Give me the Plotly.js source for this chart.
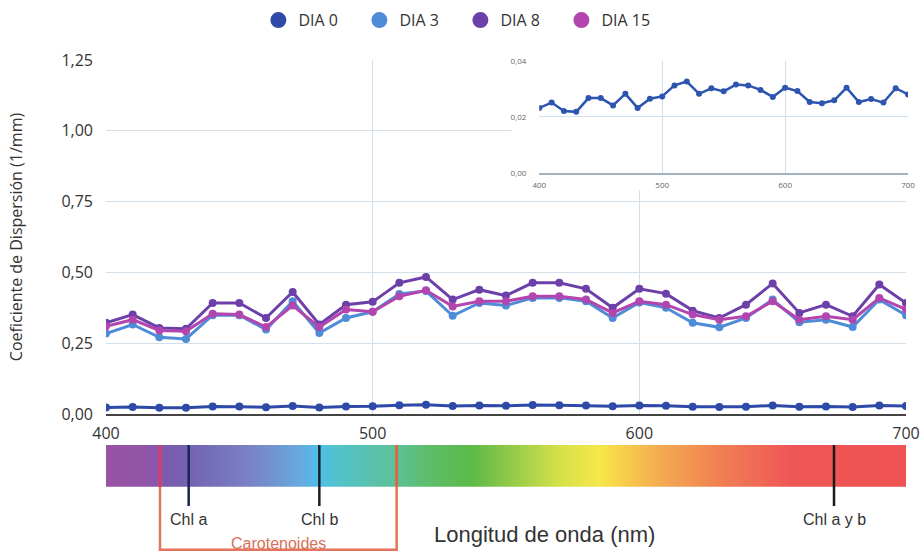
<!DOCTYPE html>
<html><head><meta charset="utf-8">
<script src="https://cdn.plot.ly/plotly-3.0.1.min.js"></script>
<style>html,body{margin:0;padding:0;background:#fff}#chart{width:922px;height:552px}</style>
</head><body><div id="chart"></div>
<script>
// ---- data ----
const wavelengths = [400,410,420,430,440,450,460,470,480,490,500,510,520,530,540,550,560,570,580,590,600,610,620,630,640,650,660,670,680,690,700];
const dia0  = [0.0232,0.0251,0.0221,0.0218,0.0267,0.0267,0.0241,0.0282,0.0232,0.0265,0.0273,0.0312,0.0326,0.0282,0.0302,0.0291,0.0315,0.0312,0.0296,0.0271,0.0304,0.0292,0.0253,0.0249,0.0259,0.0304,0.0253,0.0264,0.0251,0.0302,0.0280];
const dia3  = [0.284,0.316,0.271,0.265,0.349,0.349,0.298,0.398,0.286,0.339,0.361,0.424,0.434,0.347,0.392,0.383,0.410,0.410,0.398,0.339,0.394,0.375,0.322,0.306,0.339,0.404,0.324,0.333,0.307,0.404,0.349];
const dia8  = [0.322,0.351,0.304,0.301,0.392,0.392,0.339,0.431,0.316,0.386,0.396,0.463,0.484,0.404,0.439,0.418,0.463,0.463,0.442,0.375,0.442,0.425,0.365,0.339,0.386,0.461,0.357,0.386,0.345,0.457,0.392];
const dia15 = [0.310,0.333,0.295,0.292,0.354,0.351,0.307,0.383,0.307,0.369,0.361,0.416,0.437,0.380,0.398,0.398,0.416,0.416,0.404,0.357,0.398,0.386,0.351,0.333,0.345,0.398,0.333,0.345,0.333,0.410,0.369];
const seriesNames  = ['DIA 0','DIA 3','DIA 8','DIA 15'];
const seriesColors = ['#2d4aa8','#4f8cd8','#6c40a8','#b245ae'];
const xTicks = [400,500,600,700];
const yTicks = [0,0.25,0.5,0.75,1,1.25];
const insetYTicks = [0,0.02,0.04];
const xTitle = 'Longitud de onda (nm)';
const yTitle = 'Coeficiente de Dispersión (1/mm)';
// visible spectrum colour stops (nm, colour)
const specNm    = [400,416,422,431,454,473,480,486,509,521,537,550,570,585,593,608,630,657,700];
const specColor = ['#9a52a3','#9055a8','#7c5aad','#7462b2','#7a82c4','#66aade','#4ec0ea','#52c2cc','#5ec196','#5dbd6a','#5cba48','#8cc848','#d5e04a','#f5e84a','#f8d04a','#f4aa52','#f08052','#ee5656','#ef5252'];
// pigment absorption markers
const pigmentNames = ['Chl a','Chl b','Chl a y b'];
const pigmentNm    = [431,480,673];
const pigmentColors = ['#1c2158','#1a1f28','#1a1a1a'];
const caroNm = [420.25,509];
const caroLabel = 'Carotenoides';

// ---- build ----
const series = [dia0,dia3,dia8,dia15];
const traces = [];
series.forEach((vals,i)=>{
  traces.push({type:'scatter',mode:'lines+markers',x:wavelengths,y:vals,xaxis:'x',yaxis:'y',
    name:seriesNames[i],showlegend:false,line:{color:seriesColors[i],width:3},
    marker:{color:seriesColors[i],size:8},hoverinfo:'x+y+name'});
});
const specMin = specNm[0], specMax = specNm[specNm.length-1];
const barBottom = 0.61, barTop = 1;
traces.push({type:'scatter',mode:'lines',xaxis:'x2',yaxis:'y2',
  x:[specMin,specMax,specMax,specMin,specMin],y:[barBottom,barBottom,barTop,barTop,barBottom],
  fill:'toself',line:{width:0,color:'rgba(0,0,0,0)'},showlegend:false,hoverinfo:'skip',
  fillgradient:{type:'horizontal',start:specMin,stop:specMax,
    colorscale:specNm.map((n,i)=>[(n-specMin)/(specMax-specMin),specColor[i]])}});
// white backdrop subplot for the inset
traces.push({type:'scatter',mode:'markers',x:[],y:[],xaxis:'x3',yaxis:'y3',showlegend:false,hoverinfo:'skip'});
// inset
traces.push({type:'scatter',mode:'lines+markers',x:wavelengths,y:dia0,xaxis:'x4',yaxis:'y4',
  name:seriesNames[0],showlegend:false,line:{color:'#2d55b0',width:2.5},marker:{color:'#2d55b0',size:6}});
// legend entries
seriesNames.forEach((n,i)=>{
  traces.push({type:'scatter',mode:'markers',x:[null],y:[null],xaxis:'x',yaxis:'y',name:n,
    marker:{color:seriesColors[i],size:17},showlegend:true});
});

const grid = '#d3dfe9';
const shapes = [];
pigmentNm.forEach((nm,i)=>{
  shapes.push({type:'line',xref:'x2',yref:'y2',x0:nm,x1:nm,y0:barTop,y1:0.43,line:{color:pigmentColors[i],width:2.5}});
});
shapes.push({type:'path',xref:'x2',yref:'y2',
  path:`M${caroNm[0]},${barTop} L${caroNm[0]},0.02 L${caroNm[1]},0.02 L${caroNm[1]},${barTop}`,
  line:{color:'#e2735c',width:2.5}});
shapes.push({type:'line',xref:'x2',yref:'y2',x0:caroNm[0],x1:caroNm[0],y0:barTop,y1:barBottom,line:{color:'#e0336a',width:2.5}});
shapes.push({type:'line',xref:'x2',yref:'y2',x0:caroNm[1],x1:caroNm[1],y0:barTop,y1:barBottom,line:{color:'#e06242',width:2.5}});

const annotations = pigmentNames.map((n,i)=>({xref:'x2',yref:'y2',x:pigmentNm[i],y:0.30,text:n,showarrow:false,
  xanchor:'center',yanchor:'middle',font:{family:'Liberation Sans, Arial, sans-serif',size:16,color:'#333'}}));
annotations.push({xref:'x2',yref:'y2',x:(caroNm[0]+caroNm[1])/2,y:0.084,text:caroLabel,showarrow:false,
  xanchor:'center',yanchor:'middle',font:{family:'Liberation Sans, Arial, sans-serif',size:16,color:'#d8705a'}});
annotations.push({xref:'paper',yref:'y2',x:0.547,y:0.16,text:xTitle,showarrow:false,
  xanchor:'center',yanchor:'middle',font:{family:'Liberation Sans, Arial, sans-serif',size:22,color:'#333'}});

const layout = {
  width:922,height:552,margin:{l:106,r:14,t:60,b:0},
  paper_bgcolor:'#ffffff',plot_bgcolor:'#ffffff',separators:',.',
  font:{family:'Open Sans, sans-serif',color:'#333',size:15},
  showlegend:true,
  legend:{orientation:'h',x:0.19,xanchor:'left',y:1.081,yanchor:'middle',
    font:{size:16,color:'#333'},itemwidth:30,entrywidth:56,bgcolor:'rgba(0,0,0,0)'},
  xaxis:{domain:[0,0.9975],range:[400,700],tickvals:xTicks,showgrid:true,gridcolor:grid,
    zeroline:false,showline:true,linecolor:'#444',linewidth:2,ticks:'',tickfont:{size:16},
    ticklabelstandoff:4,anchor:'y',fixedrange:true},
  yaxis:{domain:[0.2805,1],range:[0,1.25],tickvals:yTicks,tickformat:'.2f',showgrid:true,gridcolor:grid,
    zeroline:false,showline:false,ticks:'',tickfont:{size:16},ticklabelstandoff:12,anchor:'x',
    title:{text:yTitle,font:{size:16,color:'#333'},standoff:34},fixedrange:true},
  xaxis2:{domain:[0,0.9975],range:[400,700],visible:false,anchor:'y2',fixedrange:true},
  yaxis2:{domain:[0,0.2175],range:[0,1],visible:false,anchor:'x2',fixedrange:true},
  xaxis3:{domain:[0.5055,1],range:[0,1],visible:false,anchor:'y3',fixedrange:true},
  yaxis3:{domain:[0.7358,1],range:[0,1],visible:false,anchor:'x3',fixedrange:true},
  xaxis4:{domain:[0.5403,1],range:[400,700],tickvals:xTicks,showgrid:true,gridcolor:'#cfe0ee',
    zeroline:false,showline:true,linecolor:'#9fb3c3',linewidth:2,ticks:'',
    tickfont:{size:8,color:'#666'},ticklabelstandoff:3,anchor:'y4',fixedrange:true},
  yaxis4:{domain:[0.77,0.9986],range:[0,0.04],tickvals:insetYTicks,tickformat:'.2f',showgrid:true,gridcolor:'#cfe0ee',
    zeroline:false,showline:false,ticks:'',tickfont:{size:8,color:'#666'},ticklabelstandoff:12,anchor:'x4',fixedrange:true},
  shapes:shapes,annotations:annotations
};
Plotly.newPlot('chart',traces,layout,{displayModeBar:false,staticPlot:true});
</script></body></html>
